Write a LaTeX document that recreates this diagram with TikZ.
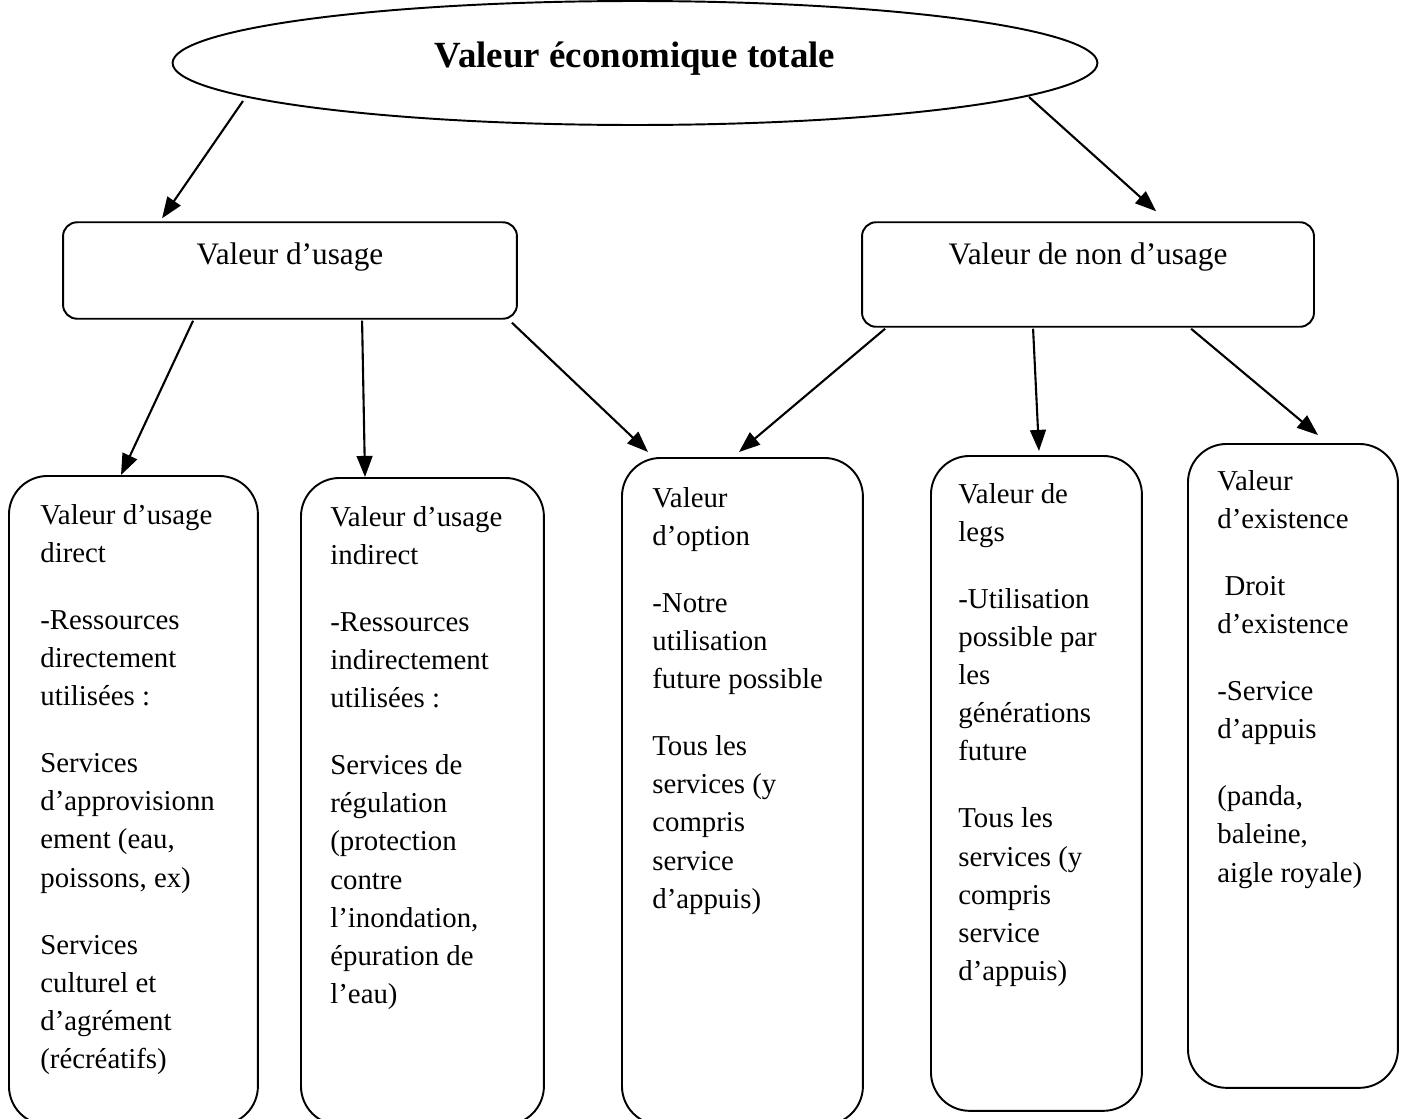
\documentclass[tikz,border=0pt]{standalone}
\usepackage{fontspec}
\setmainfont{Liberation Serif}
\usetikzlibrary{shapes.geometric}
\usetikzlibrary{arrows.meta}
\usetikzlibrary{calc}

\tikzset{
  totale/.style={draw, ellipse, line width=1.1pt, inner sep=0pt, minimum width=18.5cm, minimum height=2.48cm,
    font=\fontsize{21}{25}\selectfont\bfseries, text height=16.5pt, text depth=11.5pt},
  valeur/.style={draw, rounded corners=8pt, line width=1.1pt, inner sep=0pt, font=\fontsize{17.8}{21.5}\selectfont},
  classe/.style={draw, rounded corners=22pt, line width=1.1pt, anchor=north west, inner sep=0pt},
  texte/.style={anchor=north west, align=left, inner sep=0pt, font=\fontsize{16.4}{21.7}\selectfont},
  fleche/.style={-{Triangle[length=12pt,width=9pt]}, line width=1.2pt},
}

\begin{document}
\begin{tikzpicture}[x=0.02cm, y=-0.02cm]
    \useasboundingbox (0,0) rectangle (1403,1119);

    \node[totale] (vet) at (635,63) {Valeur économique totale};

    \node[valeur, minimum width=9.08cm, text height=24.2pt, text depth=30.7pt] (usage) at (290,270.5) {Valeur d’usage};
    \node[valeur, minimum width=9.04cm, text height=24.2pt, text depth=35.3pt] (nonusage) at (1088,274.5) {Valeur de non d’usage};

    \node[classe, minimum width=4.98cm, minimum height=12.98cm] (direct) at (8,475) {};
    \node[classe, minimum width=4.86cm, minimum height=12.94cm] (indirect) at (300,477) {};
    \node[classe, minimum width=4.82cm, minimum height=13.34cm] (option) at (621,457) {};
    \node[classe, minimum width=4.22cm, minimum height=13.1cm] (legs) at (930,455) {};
    \node[classe, minimum width=4.2cm, minimum height=12.88cm] (existence) at (1187,443) {};

    \node[texte] (tdirect) at (40,497) {\strut Valeur d’usage\\direct\\[16.5pt]-Ressources\\directement\\utilisées :\\[16.5pt]Services\\d’approvisionn\\ement (eau,\\poissons, ex)\\[16.5pt]Services\\culturel et\\d’agrément\\(récréatifs)};
    \node[texte] (tindirect) at (330,499) {\strut Valeur d’usage\\indirect\\[16.5pt]-Ressources\\indirectement\\utilisées :\\[16.5pt]Services de\\régulation\\(protection\\contre\\l’inondation,\\épuration de\\l’eau)};
    \node[texte] (toption) at (652,480) {\strut Valeur\\d’option\\[16.5pt]-Notre\\utilisation\\future possible\\[16.5pt]Tous les\\services (y\\compris\\service\\d’appuis)};
    \node[texte] (tlegs) at (958,476) {\strut Valeur de\\legs\\[16.5pt]-Utilisation\\possible par\\les\\générations\\future\\[16.5pt]Tous les\\services (y\\compris\\service\\d’appuis)};
    \node[texte] (texistence) at (1217,463) {\strut Valeur\\d’existence\\[16.5pt]\hspace{0.25em}Droit\\d’existence\\[16.5pt]-Service\\d’appuis\\[16.5pt](panda,\\baleine,\\aigle royale)};

    \draw[fleche] ($(vet.center)+(-392,38)$) -- ($(usage.north west)+(100,-3)$);
    \draw[fleche] ($(vet.center)+(394,34)$) -- ($(nonusage.north west)+(295,-10)$);

    \draw[fleche] ($(usage.south west)+(131,1)$) -- ($(direct.north west)+(113,0)$);
    \draw[fleche] ($(usage.south west)+(300,1)$) -- ($(indirect.north west)+(65,0)$);
    \draw[fleche] ($(usage.south east)+(-6,3)$) -- ($(option.north west)+(27,-5)$);
    \draw[fleche] ($(nonusage.south west)+(24,1)$) -- ($(option.north west)+(118,-5)$);
    \draw[fleche] ($(nonusage.south west)+(172,1)$) -- ($(legs.north west)+(109,-4)$);
    \draw[fleche] ($(nonusage.south west)+(330,1)$) -- ($(existence.north west)+(131,-8)$);
\end{tikzpicture}
\end{document}
